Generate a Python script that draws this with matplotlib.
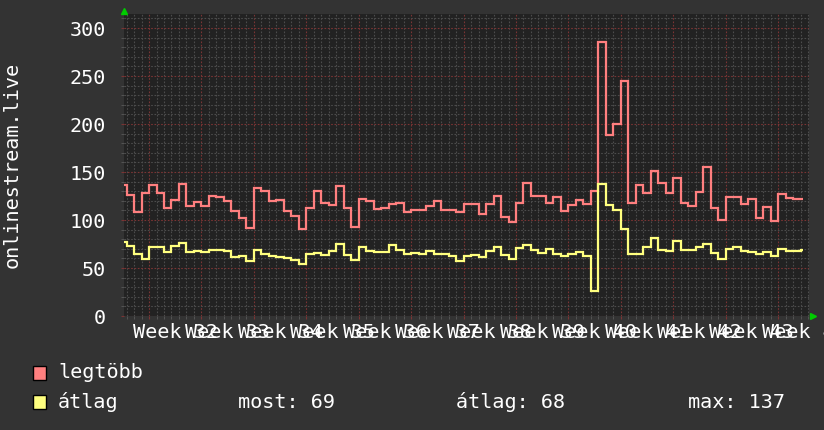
import numpy as np
import matplotlib
matplotlib.use('Agg')
import matplotlib.pyplot as plt
from matplotlib.patches import Rectangle
from matplotlib.ticker import MultipleLocator

plt.rcParams['font.family'] = ['DejaVu Sans Mono']

# daily values, first entry is the (partly visible) day 4 days before week 32 starts
first_day = -4
last_edge = 87.3  # last update, part way through the final day

legtobb = [136, 126, 108, 128,
           136, 128, 113, 121, 137, 115, 119, 115, 125, 124, 120, 109, 102, 92,
           133, 130, 120, 121, 109, 104, 91, 113, 130, 118, 116, 135, 112, 93,
           122, 120, 111, 113, 117, 118,
           108, 110, 110, 115, 120, 110, 110, 108, 117, 117, 106, 117, 125, 103,
           98, 118,
           139, 125, 125, 118, 124, 109, 116, 121, 117, 130,
           285, 189, 200, 245, 118, 136, 128, 151, 139, 128, 144, 118, 115, 129,
           155, 112, 100, 124, 124, 117, 122, 102, 114, 99, 127, 123, 122, 122]

atlag = [77, 73, 65, 59,
         72, 72, 67, 73, 76, 67, 68, 67, 69, 69, 68, 61, 62, 57,
         69, 65, 62.5, 61, 60, 58, 54.5, 64.5, 66, 63.5, 68, 75, 63.5, 58.5,
         72, 68, 67, 67, 74, 69,
         65, 66, 64.5, 67.5, 64.5, 64.5, 62, 57, 62.5, 63.5, 61, 67.5, 72, 63.5,
         59.5, 71,
         74, 69, 66, 70, 65, 62, 64.5, 67, 63, 26,
         137, 115.5, 110.5, 90.5, 65, 65, 72, 81.5, 68.5, 67.5, 78.5, 68.5, 68.5,
         72, 75.5, 66, 59.5, 70, 72, 68, 67, 64.5, 67, 62, 69.5, 68, 68, 69]

week_labels = ['Week %d' % w for w in range(32, 45)]
y_label = 'onlinestream.live'
legend_names = ['legtöbb', 'átlag']
stats = ['most: 69', 'átlag: 68', 'max: 137']

edges = np.append(np.arange(first_day, first_day + len(legtobb)), last_edge)

W, H = 824, 430
fig = plt.figure(figsize=(W / 100, H / 100), dpi=100, facecolor='#333333')
ax = fig.add_axes([124 / W, 1 - 316 / H, (809 - 124) / W, (316 - 14) / H])
ax.set_facecolor('#222222')

ax.stairs(legtobb, edges, baseline=None, color='#ff7f7f', lw=1.6, zorder=3)
ax.stairs(atlag, edges, baseline=None, color='#ffff7f', lw=1.6, zorder=4)

ax.set_xlim(-3.34, 88.12)
ax.set_ylim(0, 314.6)

ax.xaxis.set_major_locator(MultipleLocator(7))
ax.xaxis.set_minor_locator(MultipleLocator(1))
ax.yaxis.set_major_locator(MultipleLocator(50))
ax.yaxis.set_minor_locator(MultipleLocator(10))
ax.set_xticklabels([])
ax.grid(which='minor', color='#4c4c4c', linestyle=(0, (1.5, 1.5)), lw=0.8)
ax.grid(which='major', color='#7a3434', linestyle=(0, (1.5, 1.5)), lw=0.8)
ax.set_axisbelow(True)
ax.tick_params(which='both', length=2, color='#5a5a5a')
ax.tick_params(axis='y', which='major', pad=11, labelsize=14.5, labelcolor='white',
               color='#7a3434')
ax.tick_params(axis='x', which='major', color='#7a3434')
for s in ax.spines.values():
    s.set_visible(False)

# week labels sit in the middle of each week, overlapping like the original
for i, lab in enumerate(week_labels):
    ax.text(3.5 + 7 * i, -0.022, lab, transform=ax.get_xaxis_transform(),
            ha='center', va='top', color='white', fontsize=14.5, clip_on=False)

# green arrows at the axis ends
ax.plot([0], [1 + 3.5 / 302], marker='^', color='#00cc00', ms=4.5,
        transform=ax.transAxes, clip_on=False)
ax.plot([1 + 4 / 685], [0], marker='>', color='#00cc00', ms=4.5,
        transform=ax.transAxes, clip_on=False)

fig.text(12 / W, 1 - 165 / H, y_label, rotation=90, ha='center', va='center',
         color='white', fontsize=14.5)

# legend
colors = ['#ff7f7f', '#ffff7f']
rows_y = [373, 402]
for name, c, yy in zip(legend_names, colors, rows_y):
    fig.patches.append(Rectangle((33 / W, 1 - (yy + 7) / H), 13 / W, 14 / H,
                                 transform=fig.transFigure, facecolor=c,
                                 edgecolor='black', lw=1))
    fig.text(58 / W, 1 - yy / H, name, ha='left', va='center', color='white',
             fontsize=14.5)
for txt, xx in zip(stats, [238, 456, 688]):
    fig.text(xx / W, 1 - 402 / H, txt, ha='left', va='center', color='white',
             fontsize=14.5)

fig.savefig('out.png', dpi=100, facecolor=fig.get_facecolor())
